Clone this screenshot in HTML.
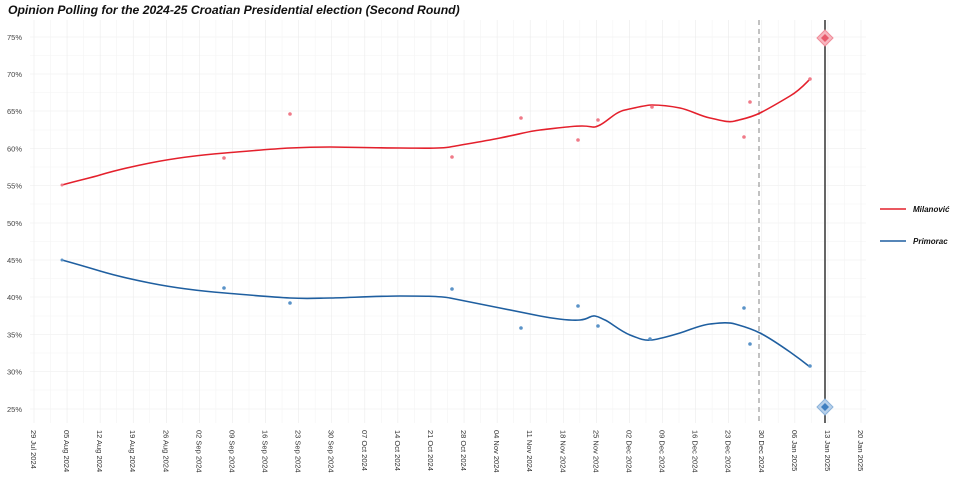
<!DOCTYPE html>
<html><head><meta charset="utf-8"><style>
body{margin:0;background:#fff;font-family:"Liberation Sans",sans-serif}
</style></head><body>
<svg width="960" height="480" xmlns="http://www.w3.org/2000/svg" font-family="Liberation Sans, sans-serif">
<text x="8" y="14" font-size="12.2" font-weight="bold" font-style="italic" fill="#111">Opinion Polling for the 2024-25 Croatian Presidential election (Second Round)</text>
<g id="grid" stroke="#ebebeb" stroke-width="0.6">
<g stroke="#f4f4f4">
<line x1="30" x2="866" y1="55.5" y2="55.5"/><line x1="30" x2="866" y1="92.5" y2="92.5"/><line x1="30" x2="866" y1="130" y2="130"/><line x1="30" x2="866" y1="167" y2="167"/><line x1="30" x2="866" y1="204" y2="204"/><line x1="30" x2="866" y1="241.5" y2="241.5"/><line x1="30" x2="866" y1="278.5" y2="278.5"/><line x1="30" x2="866" y1="316" y2="316"/><line x1="30" x2="866" y1="353" y2="353"/><line x1="30" x2="866" y1="390" y2="390"/>
</g>
<line x1="30" x2="866" y1="37" y2="37"/><line x1="30" x2="866" y1="74" y2="74"/><line x1="30" x2="866" y1="111" y2="111"/><line x1="30" x2="866" y1="148.5" y2="148.5"/><line x1="30" x2="866" y1="185.5" y2="185.5"/><line x1="30" x2="866" y1="223" y2="223"/><line x1="30" x2="866" y1="260" y2="260"/><line x1="30" x2="866" y1="297" y2="297"/><line x1="30" x2="866" y1="334.5" y2="334.5"/><line x1="30" x2="866" y1="371.5" y2="371.5"/><line x1="30" x2="866" y1="409" y2="409"/>
</g>
<g stroke="#ebebeb" stroke-width="0.6" id="vg"></g>
<g font-size="7.5" fill="#444" text-anchor="end">
<text x="22" y="40">75%</text><text x="22" y="77">70%</text><text x="22" y="114">65%</text><text x="22" y="151.5">60%</text><text x="22" y="188.5">55%</text><text x="22" y="226">50%</text><text x="22" y="263">45%</text><text x="22" y="300">40%</text><text x="22" y="337.5">35%</text><text x="22" y="374.5">30%</text><text x="22" y="412">25%</text>
</g>
<g id="xl" font-size="7.5" fill="#333"></g>
<line x1="759" x2="759" y1="20" y2="423" stroke="#999" stroke-width="1.2" stroke-dasharray="5,4"/>
<line x1="825" x2="825" y1="20" y2="423" stroke="#555" stroke-width="1.8"/>
<path d="M62,185 C80,180 90,178 100,175 S130,167 150,163 S200,155 225,153 S270,149 290,148 S320,147 330,147 S380,148 400,148 S440,149 450,147 S480,142 500,138 S530,131 540,130 S570,126 582,126 S592,129 600,125 S615,112 625,110 S645,105 652,105 S670,106 680,108 S700,116 710,118 S728,123 735,121 S750,118 760,113 S780,102 790,96 S805,84 810,79" fill="none" stroke="#e4202c" stroke-width="1.6"/>
<path d="M62,260 C80,265 90,268 100,271 S130,279 150,283 S200,291 225,293 S270,297 290,298 S320,298 330,298 S380,296 400,296 S440,296 450,298 S480,304 500,308 S530,314 540,316 S570,321 580,320 S590,315 595,316 S600,318 605,320 S620,331 630,335 S645,341 652,340 S670,336 680,333 S700,325 710,324 S728,322 735,324 S750,328 760,333 S780,345 790,352 S805,363 810,367" fill="none" stroke="#1f5fa0" stroke-width="1.6"/>
<g fill="#f07a88"><circle cx="224" cy="158" r="1.8"/><circle cx="290" cy="114" r="1.8"/><circle cx="452" cy="157" r="1.8"/><circle cx="521" cy="118" r="1.8"/><circle cx="578" cy="140" r="1.8"/><circle cx="598" cy="120" r="1.8"/><circle cx="652" cy="107" r="1.8"/><circle cx="744" cy="137" r="1.8"/><circle cx="750" cy="102" r="1.8"/><circle cx="810" cy="79" r="1.8"/><circle cx="62" cy="185" r="1.5"/></g>
<g fill="#5a93c8"><circle cx="224" cy="288" r="1.8"/><circle cx="290" cy="303" r="1.8"/><circle cx="452" cy="289" r="1.8"/><circle cx="521" cy="328" r="1.8"/><circle cx="578" cy="306" r="1.8"/><circle cx="598" cy="326" r="1.8"/><circle cx="650" cy="339" r="1.8"/><circle cx="744" cy="308" r="1.8"/><circle cx="750" cy="344" r="1.8"/><circle cx="810" cy="366" r="1.8"/><circle cx="62" cy="260" r="1.5"/></g>
<polygon points="825,30 833,38 825,46 817,38" fill="#f7b6bf" stroke="#f08a98"/><polygon points="825,34 829,38 825,42 821,38" fill="#e85a6c"/>
<polygon points="825,399 833,407 825,415 817,407" fill="#b7d0ea" stroke="#8ab2da"/><polygon points="825,403 829,407 825,411 821,407" fill="#3f7fc0"/>
<line x1="880" x2="906" y1="209" y2="209" stroke="#e4202c" stroke-width="1.6"/>
<text x="913" y="212" font-size="8" font-weight="bold" font-style="italic" fill="#111">Milanović</text>
<line x1="880" x2="906" y1="241" y2="241" stroke="#1f5fa0" stroke-width="1.6"/>
<text x="913" y="244" font-size="8" font-weight="bold" font-style="italic" fill="#111">Primorac</text>
</svg>
<script>
var L=["29 Jul 2024","05 Aug 2024","12 Aug 2024","19 Aug 2024","26 Aug 2024","02 Sep 2024","09 Sep 2024","16 Sep 2024","23 Sep 2024","30 Sep 2024","07 Oct 2024","14 Oct 2024","21 Oct 2024","28 Oct 2024","04 Nov 2024","11 Nov 2024","18 Nov 2024","25 Nov 2024","02 Dec 2024","09 Dec 2024","16 Dec 2024","23 Dec 2024","30 Dec 2024","06 Jan 2025","13 Jan 2025","20 Jan 2025"];
var ns="http://www.w3.org/2000/svg",vg=document.getElementById("vg"),xl=document.getElementById("xl");
for(var i=0;i<L.length;i++){var x=34+33.08*i;
var l=document.createElementNS(ns,"line");l.setAttribute("x1",x);l.setAttribute("x2",x);l.setAttribute("y1",20);l.setAttribute("y2",423);vg.appendChild(l);
if(i<L.length-1){var m=document.createElementNS(ns,"line");m.setAttribute("x1",x+16.5);m.setAttribute("x2",x+16.5);m.setAttribute("y1",20);m.setAttribute("y2",423);m.setAttribute("stroke","#f4f4f4");vg.appendChild(m);}
var t=document.createElementNS(ns,"text");t.setAttribute("transform","translate("+(x-3)+",430) rotate(90)");t.textContent=L[i];xl.appendChild(t);}
</script>
</body></html>
